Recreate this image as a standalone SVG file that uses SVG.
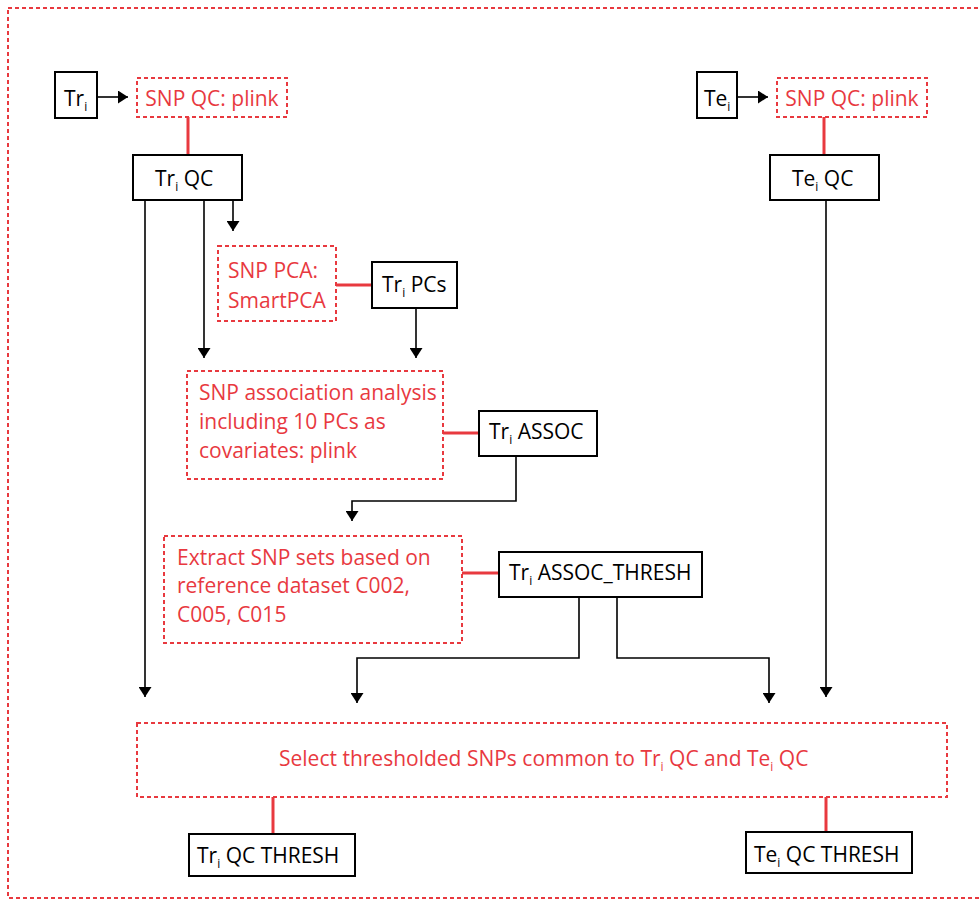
<svg xmlns="http://www.w3.org/2000/svg" width="980" height="907" viewBox="0 0 980 907">
<defs>
<marker id="ah" viewBox="0 0 10 13" refX="10" refY="6.5" markerWidth="10" markerHeight="13" markerUnits="userSpaceOnUse" orient="auto">
<path d="M0,0 L10,6.5 L0,13 Z" fill="#000"/>
</marker>
<style>
.bx{fill:#fff;stroke:#000;stroke-width:2}
.dx{fill:none;stroke:#e8393f;stroke-width:2;stroke-dasharray:4 3}
.t{font-family:"Open Sans","Liberation Sans",sans-serif;font-size:21px;fill:#000}
.r{font-family:"Open Sans","Liberation Sans",sans-serif;font-size:21px;fill:#e8393f}
.s{font-size:12px}
.ln{fill:none;stroke:#000;stroke-width:1.6}
.rl{fill:none;stroke:#e8393f;stroke-width:3}
</style>
</defs>
<rect x="8" y="8" width="1010" height="890" class="dx"/>

<g id="connectors">
<line x1="97" y1="97" x2="128" y2="97" class="ln" marker-end="url(#ah)"/>
<line x1="737" y1="97" x2="768" y2="97" class="ln" marker-end="url(#ah)"/>
<line x1="188" y1="117" x2="188" y2="155" class="rl"/>
<line x1="824" y1="117" x2="824" y2="155" class="rl"/>
<line x1="233" y1="200" x2="233" y2="231" class="ln" marker-end="url(#ah)"/>
<line x1="145" y1="200" x2="145" y2="697" class="ln" marker-end="url(#ah)"/>
<line x1="204" y1="200" x2="204" y2="358" class="ln" marker-end="url(#ah)"/>
<line x1="826" y1="200" x2="826" y2="697" class="ln" marker-end="url(#ah)"/>
<line x1="336" y1="285" x2="372" y2="285" class="rl"/>
<line x1="416" y1="308" x2="416" y2="358" class="ln" marker-end="url(#ah)"/>
<line x1="443" y1="433" x2="479" y2="433" class="rl"/>
<polyline points="516,456 516,501 352,501 352,521" class="ln" marker-end="url(#ah)"/>
<line x1="462" y1="573" x2="499" y2="573" class="rl"/>
<polyline points="579,597 579,658 357,658 357,703" class="ln" marker-end="url(#ah)"/>
<polyline points="617,597 617,658 769,658 769,703" class="ln" marker-end="url(#ah)"/>
<line x1="273" y1="797" x2="273" y2="834" class="rl"/>
<line x1="826" y1="797" x2="826" y2="832" class="rl"/>
</g>

<g id="tr">
<rect x="55" y="72" width="42" height="46" class="bx"/>
<text x="64" y="106" class="t">Tr<tspan class="s" dy="5">i</tspan></text>
</g>
<g id="tr-snpqc">
<rect x="137" y="78" width="150" height="39" class="dx"/>
<text x="212" y="106" class="r" text-anchor="middle">SNP QC: plink</text>
</g>
<g id="te">
<rect x="697" y="72" width="40" height="46" class="bx"/>
<text x="704" y="106" class="t">Te<tspan class="s" dy="5">i</tspan></text>
</g>
<g id="te-snpqc">
<rect x="777" y="78" width="150" height="39" class="dx"/>
<text x="852" y="106" class="r" text-anchor="middle">SNP QC: plink</text>
</g>
<g id="trqc">
<rect x="133" y="155" width="109" height="45" class="bx"/>
<text x="155" y="186" class="t">Tr<tspan class="s" dy="5">i</tspan><tspan dy="-5"> QC</tspan></text>
</g>
<g id="teqc">
<rect x="770" y="155" width="109" height="45" class="bx"/>
<text x="792" y="186" class="t">Te<tspan class="s" dy="5">i</tspan><tspan dy="-5"> QC</tspan></text>
</g>
<g id="pca">
<rect x="218" y="246" width="118" height="75" class="dx"/>
<text x="228" y="278" class="r">SNP PCA:</text>
<text x="228" y="308" class="r">SmartPCA</text>
</g>
<g id="trpcs">
<rect x="372" y="262" width="85" height="46" class="bx"/>
<text x="382" y="292" class="t">Tr<tspan class="s" dy="5">i</tspan><tspan dy="-5"> PCs</tspan></text>
</g>
<g id="assoc-analysis">
<rect x="187" y="371" width="256" height="108" class="dx"/>
<text x="199" y="400" class="r">SNP association analysis</text>
<text x="199" y="429" class="r">including 10 PCs as</text>
<text x="199" y="458" class="r">covariates: plink</text>
</g>
<g id="trassoc">
<rect x="479" y="411" width="118" height="45" class="bx"/>
<text x="489" y="439" class="t">Tr<tspan class="s" dy="5">i</tspan><tspan dy="-5"> ASSOC</tspan></text>
</g>
<g id="extract">
<rect x="164" y="536" width="298" height="107" class="dx"/>
<text x="177" y="565" class="r">Extract SNP sets based on</text>
<text x="177" y="593" class="r">reference dataset C002,</text>
<text x="177" y="622" class="r">C005, C015</text>
</g>
<g id="trassocthresh">
<rect x="499" y="552" width="203" height="45" class="bx"/>
<text x="509" y="580" class="t">Tr<tspan class="s" dy="5">i</tspan><tspan dy="-5"> ASSOC_THRESH</tspan></text>
</g>
<g id="select">
<rect x="137" y="723" width="810" height="74" class="dx"/>
<text x="279" y="766" class="r">Select thresholded SNPs common to Tr<tspan class="s" dy="5">i</tspan><tspan dy="-5"> QC and Te</tspan><tspan class="s" dy="5">i</tspan><tspan dy="-5"> QC</tspan></text>
</g>
<g id="trqcthresh">
<rect x="189" y="834" width="166" height="42" class="bx"/>
<text x="197" y="863" class="t">Tr<tspan class="s" dy="5">i</tspan><tspan dy="-5"> QC THRESH</tspan></text>
</g>
<g id="teqcthresh">
<rect x="746" y="832" width="166" height="41" class="bx"/>
<text x="754" y="862" class="t">Te<tspan class="s" dy="5">i</tspan><tspan dy="-5"> QC THRESH</tspan></text>
</g>
</svg>
